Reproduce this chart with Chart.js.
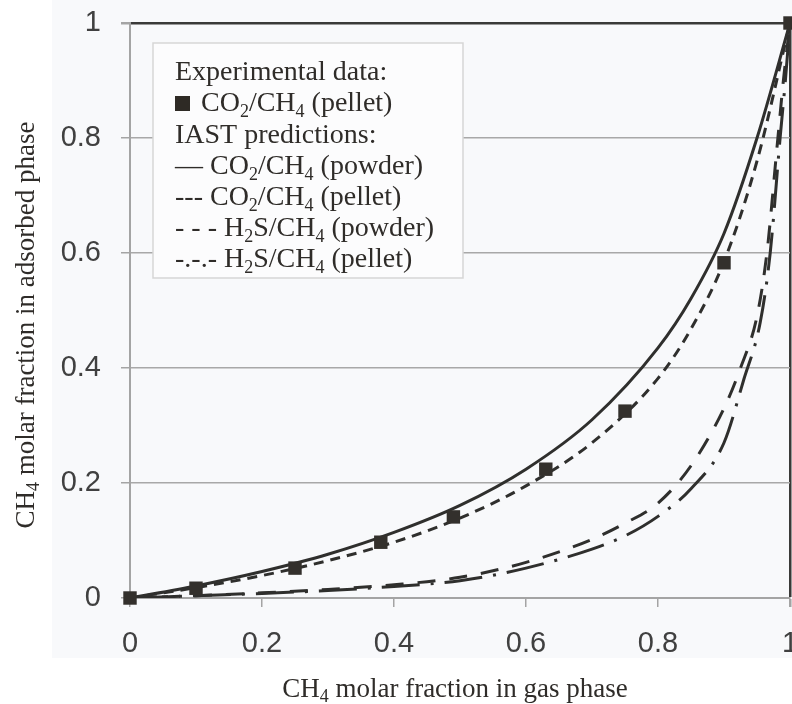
<!DOCTYPE html>
<html>
<head>
<meta charset="utf-8">
<script src="https://cdn.jsdelivr.net/npm/chart.js@4/dist/chart.umd.min.js"></script>
<style>
  html, body { margin: 0; padding: 0; background: #ffffff; }
  #wrap { width: 792px; height: 704px; }
</style>
</head>
<body>
<div id="wrap"><canvas id="chart" width="792" height="704"></canvas></div>
<script>
// experimental points, CO2/CH4 on pellets
const expX = [0, 0.1, 0.25, 0.38, 0.49, 0.63, 0.75, 0.9, 1.0];
const expY = [0, 0.017, 0.052, 0.097, 0.141, 0.224, 0.325, 0.583, 1.0];

// IAST predictions
const co2PowderX = [0, 0.1, 0.2, 0.3, 0.4, 0.5, 0.6, 0.7, 0.8, 0.85, 0.9, 0.95, 1];
const co2PowderY = [0, 0.021, 0.046, 0.076, 0.114, 0.161, 0.224, 0.31, 0.435, 0.521, 0.634, 0.8, 1];

const co2PelletX = [0, 0.1, 0.2, 0.3, 0.4, 0.5, 0.6, 0.7, 0.8, 0.85, 0.9, 0.95, 1];
const co2PelletY = [0, 0.018, 0.039, 0.065, 0.097, 0.139, 0.195, 0.27, 0.382, 0.468, 0.585, 0.76, 1];

const h2sPowderX = [0, 0.1, 0.2, 0.3, 0.4, 0.5, 0.6, 0.7, 0.75, 0.8, 0.85, 0.9, 0.925, 0.95, 0.965, 0.98, 0.99, 1];
const h2sPowderY = [0, 0.004, 0.009, 0.015, 0.023, 0.036, 0.062, 0.102, 0.13, 0.165, 0.23, 0.33, 0.40, 0.49, 0.6, 0.78, 0.9, 1];

const h2sPelletX = [0, 0.1, 0.2, 0.3, 0.4, 0.5, 0.6, 0.7, 0.75, 0.8, 0.85, 0.9, 0.93, 0.955, 0.97, 0.985, 0.993, 1];
const h2sPelletY = [0, 0.004, 0.008, 0.013, 0.02, 0.03, 0.052, 0.085, 0.108, 0.142, 0.19, 0.27, 0.38, 0.48, 0.6, 0.8, 0.9, 1];

const tickValues = [0, 0.2, 0.4, 0.6, 0.8, 1];

const xTitle = [["CH"], ["4", true], [" molar fraction in gas phase"]];
const yTitle = [["CH"], ["4", true], [" molar fraction in adsorbed phase"]];

const legendLines = [
    [["Experimental data:"]],
    [["CO"], ["2", true], ["/CH"], ["4", true], [" (pellet)"]],
    [["IAST predictions:"]],
    [["— CO"], ["2", true], ["/CH"], ["4", true], [" (powder)"]],
    [["--- CO"], ["2", true], ["/CH"], ["4", true], [" (pellet)"]],
    [["- - - H"], ["2", true], ["S/CH"], ["4", true], [" (powder)"]],
    [["-.-.- H"], ["2", true], ["S/CH"], ["4", true], [" (pellet)"]]
];

const ink = "#2f2c29";
const serif = "'Liberation Serif', 'Times New Roman', serif";

function pairs(xs, ys) {
    return xs.map((x, i) => ({ x: x, y: ys[i] }));
}

// draw text made of normal and subscript parts, returns width
function drawRich(ctx, parts, x, y, size) {
    let cx = x;
    parts.forEach(p => {
        const sub = p[1];
        ctx.font = (sub ? Math.round(size * 0.66) : size) + "px " + serif;
        ctx.fillText(p[0], cx, sub ? y + size * 0.2 : y);
        cx += ctx.measureText(p[0]).width;
    });
    return cx - x;
}

function richWidth(ctx, parts, size) {
    let w = 0;
    parts.forEach(p => {
        ctx.font = (p[1] ? Math.round(size * 0.66) : size) + "px " + serif;
        w += ctx.measureText(p[0]).width;
    });
    return w;
}

const backdrop = {
    id: "backdrop",
    beforeDraw(chart) {
        const ctx = chart.ctx;
        ctx.save();
        ctx.fillStyle = "#ffffff";
        ctx.fillRect(0, 0, chart.width, chart.height);
        ctx.fillStyle = "#f8f9fb";
        ctx.fillRect(52, 0, chart.width - 52, 658);
        ctx.restore();
    }
};

const extras = {
    id: "extras",
    afterDraw(chart) {
        const ctx = chart.ctx;
        ctx.save();
        ctx.fillStyle = ink;
        ctx.textBaseline = "alphabetic";

        // axis titles
        const size = 27;
        const xw = richWidth(ctx, xTitle, size);
        drawRich(ctx, xTitle, 455 - xw / 2, 697, size);

        const yw = richWidth(ctx, yTitle, size);
        ctx.translate(34, 325);
        ctx.rotate(-Math.PI / 2);
        drawRich(ctx, yTitle, -yw / 2, 0, size);
        ctx.setTransform(1, 0, 0, 1, 0, 0);

        // legend box
        ctx.fillStyle = "#fcfcfd";
        ctx.fillRect(153, 43, 310, 235);
        ctx.strokeStyle = "#d6d6d6";
        ctx.lineWidth = 1.5;
        ctx.strokeRect(153, 43, 310, 235);

        ctx.fillStyle = ink;
        const lsize = 28;
        const baselines = [80, 111, 143, 174, 205, 236, 267];
        legendLines.forEach((parts, i) => {
            let x = 175;
            if (i === 1) {
                ctx.fillStyle = "#2e2a25";
                ctx.fillRect(175, 96, 15, 15);
                ctx.fillStyle = ink;
                x = 201;
            }
            drawRich(ctx, parts, x, baselines[i], lsize);
        });
        ctx.restore();
    }
};

const chart = new Chart(document.getElementById("chart"), {
    type: "scatter",
    data: {
        datasets: [
            {
                label: "CO2/CH4 (pellet) experimental",
                data: pairs(expX, expY),
                showLine: false,
                pointStyle: "rect",
                pointRadius: 9.5,
                backgroundColor: "#33302c",
                borderColor: "#33302c",
                borderWidth: 0,
                clip: false
            },
            {
                label: "CO2/CH4 (powder)",
                data: pairs(co2PowderX, co2PowderY),
                showLine: true,
                pointRadius: 0,
                borderColor: "#2f2f2d",
                borderWidth: 3,
                cubicInterpolationMode: "monotone"
            },
            {
                label: "CO2/CH4 (pellet)",
                data: pairs(co2PelletX, co2PelletY),
                showLine: true,
                pointRadius: 0,
                borderColor: "#2f2f2d",
                borderWidth: 3,
                borderDash: [10, 7],
                cubicInterpolationMode: "monotone"
            },
            {
                label: "H2S/CH4 (powder)",
                data: pairs(h2sPowderX, h2sPowderY),
                showLine: true,
                pointRadius: 0,
                borderColor: "#2f2f2d",
                borderWidth: 3,
                borderDash: [18, 14],
                cubicInterpolationMode: "monotone"
            },
            {
                label: "H2S/CH4 (pellet)",
                data: pairs(h2sPelletX, h2sPelletY),
                showLine: true,
                pointRadius: 0,
                borderColor: "#2f2f2d",
                borderWidth: 3,
                borderDash: [38, 11, 3, 11],
                cubicInterpolationMode: "monotone"
            }
        ]
    },
    options: {
        responsive: false,
        animation: false,
        layout: { autoPadding: false, padding: { top: 23, right: 2, left: 0, bottom: 0 } },
        plugins: {
            legend: { display: false },
            tooltip: { enabled: false }
        },
        scales: {
            x: {
                type: "linear",
                min: 0,
                max: 1,
                afterBuildTicks: (scale) => { scale.ticks = tickValues.map(v => ({ value: v })); },
                afterFit: (scale) => {
                    scale.height = 106;
                    scale.paddingLeft = 0;
                    scale.paddingRight = 0;
                },
                ticks: {
                    padding: 20,
                    color: "#404040",
                    font: { family: "'Liberation Sans', Arial, sans-serif", size: 29 },
                    callback: (v) => String(v)
                },
                grid: {
                    drawOnChartArea: true,
                    color: (ctx) => (ctx.tick && ctx.tick.value === 1 ? "#3a3a38" : "rgba(0,0,0,0)"),
                    lineWidth: (ctx) => (ctx.tick && ctx.tick.value === 1 ? 2.5 : 1.5),
                    tickColor: "#a4a4a4",
                    tickLength: 9
                },
                border: { color: "#a4a4a4", width: 2 }
            },
            y: {
                type: "linear",
                min: 0,
                max: 1,
                afterBuildTicks: (scale) => { scale.ticks = tickValues.map(v => ({ value: v })); },
                afterFit: (scale) => {
                    scale.width = 130;
                    scale.paddingTop = 0;
                    scale.paddingBottom = 0;
                },
                ticks: {
                    padding: 20,
                    color: "#404040",
                    font: { family: "'Liberation Sans', Arial, sans-serif", size: 29 },
                    callback: (v) => String(v)
                },
                grid: {
                    color: (ctx) => (ctx.tick && ctx.tick.value === 1 ? "#3a3a38" : "#a8a8a8"),
                    lineWidth: (ctx) => (ctx.tick && ctx.tick.value === 1 ? 2.5 : 1.5),
                    tickColor: "#a4a4a4",
                    tickLength: 9
                },
                border: { color: "#a4a4a4", width: 2 }
            }
        }
    },
    plugins: [backdrop, extras]
});
</script>
</body>
</html>
